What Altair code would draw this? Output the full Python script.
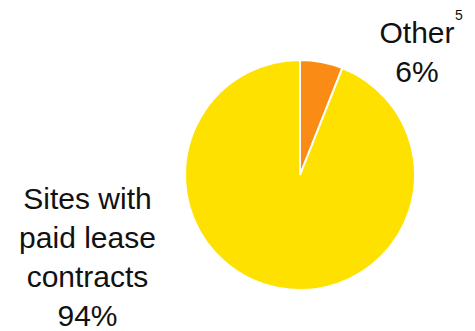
import altair as alt
import pandas as pd

categories = ["Other", "Sites with paid lease contracts"]
values = [6, 94]
colors = ["#FA8C16", "#FFE100"]
label_lines = {"Other": ["Other"], "Sites with paid lease contracts": ["Sites with", "paid lease", "contracts"]}
footnote = "5"

df = pd.DataFrame({"category": categories, "value": values, "order": list(range(len(categories)))})

pie = alt.Chart(df).mark_arc(outerRadius=115, stroke="white", strokeWidth=2).encode(
    theta=alt.Theta("value:Q", stack=True),
    color=alt.Color("category:N", scale=alt.Scale(domain=categories, range=colors), legend=None),
    order=alt.Order("order:Q"),
    x=alt.value(292),
    y=alt.value(167),
)

def label_text(cat):
    i = categories.index(cat)
    return label_lines[cat] + [f"{values[i]}%"]

font = "Liberation Sans"
left = alt.Chart(pd.DataFrame({"t": [label_text("Sites with paid lease contracts")]})).mark_text(
    font=font, fontSize=30, align="center", baseline="alphabetic", lineHeight=39, color="#111111"
).encode(text="t", x=alt.value(79.5), y=alt.value(201))

right = alt.Chart(pd.DataFrame({"t": [label_text("Other")]})).mark_text(
    font=font, fontSize=30, align="center", baseline="alphabetic", lineHeight=38.5, color="#111111"
).encode(text="t", x=alt.value(409), y=alt.value(35))

sup = alt.Chart(pd.DataFrame({"t": [footnote]})).mark_text(
    font=font, fontSize=14, align="left", baseline="alphabetic", color="#111111"
).encode(text="t", x=alt.value(447), y=alt.value(12))

chart = alt.layer(pie, left, right, sup).properties(
    width=459, height=323, autosize=alt.AutoSizeParams(type="none"), padding=0
).configure_view(stroke=None)

chart.save("out.html", embed_options={"renderer": "svg", "actions": False})
